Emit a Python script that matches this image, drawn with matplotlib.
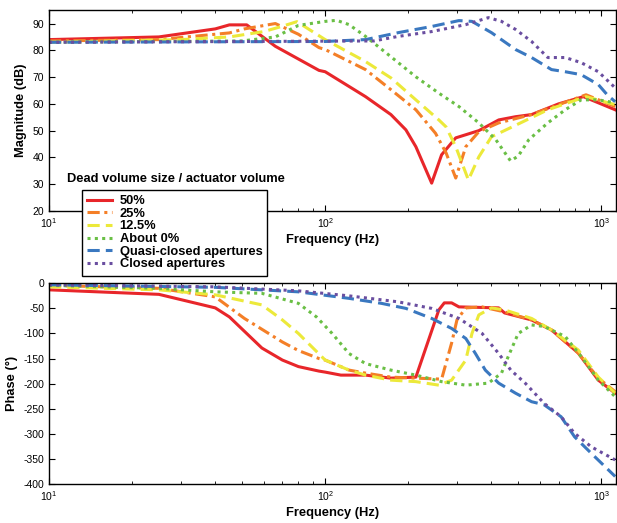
import numpy as np
import matplotlib
matplotlib.use("Agg")
import matplotlib.pyplot as plt

plt.rcParams['font.family'] = ['Liberation Sans', 'DejaVu Sans']
plt.rcParams['axes.unicode_minus'] = False
plt.rcParams['mathtext.default'] = 'regular'

# Magnitude data (Hz, dB)
red_f = [10, 25, 40, 45, 52, 66, 95, 100, 140, 173, 196, 213, 243, 264, 297, 360, 425, 489, 559, 700, 861, 1122]
red_m = [84, 85, 88, 89.5, 89.5, 81.5, 72.5, 72, 62.7, 56, 50.3, 44, 30.4, 41, 47.3, 50, 54, 55.2, 56, 60, 62.7, 57.8]
orange_f = [10, 25, 45, 51, 66, 80, 95, 100, 140, 173, 213, 251, 274, 297, 323, 360, 425, 559, 700, 880, 1122]
orange_m = [83.5, 84, 86.5, 88, 90, 86, 81, 80.3, 72.8, 65.3, 57.8, 49, 41.7, 32.3, 44, 49.6, 52.9, 56, 59.7, 63.4, 59]
yellow_f = [10, 30, 45, 60, 70, 79, 100, 140, 173, 213, 258, 274, 297, 330, 360, 400, 489, 640, 880, 1122]
yellow_m = [83, 84, 85, 87, 89, 90.7, 84, 75.8, 69.7, 61.5, 54, 51.4, 44, 31.6, 40.2, 47.7, 52, 57.8, 62.7, 59.7]
green_f = [10, 50, 66, 80, 100, 110, 122, 140, 173, 213, 258, 305, 360, 415, 469, 500, 546, 640, 740, 845, 975, 1122]
green_m = [83, 83.5, 85, 89.3, 90.8, 91.2, 89.6, 85.2, 77.6, 70.1, 64, 59, 52.9, 46.6, 38.7, 40.5, 46.6, 52.9, 57.8, 61.5, 61.5, 60.4]
blue_f = [10, 100, 140, 184, 243, 305, 340, 400, 489, 559, 660, 740, 845, 975, 1050, 1122]
blue_m = [83, 83.3, 84, 86.6, 88.9, 91.1, 90.8, 86.6, 80.3, 77.3, 72.8, 72, 70.9, 67.2, 63.4, 60.8]
purple_f = [10, 150, 184, 243, 323, 390, 435, 489, 559, 640, 740, 845, 975, 1122]
purple_m = [83, 83.5, 85.2, 87, 89.6, 92.2, 90.8, 87.8, 83.3, 77.3, 77.3, 75.4, 72, 66]

# Phase data (Hz, degrees)
red_pf = [10, 25, 40, 45, 59, 70, 80, 95, 100, 114, 140, 173, 213, 258, 270, 287, 305, 425, 446, 559, 660, 825, 975, 1122]
red_p = [-13, -22, -49, -67, -129, -153, -166, -175, -177, -183, -183, -189, -187, -53, -39, -39, -47, -49, -59, -73, -93, -139, -193, -219]
orange_pf = [10, 25, 40, 51, 70, 80, 95, 100, 122, 140, 173, 213, 264, 287, 300, 323, 370, 446, 559, 660, 825, 975, 1122]
orange_p = [-4, -10, -27, -70, -117, -134, -150, -153, -173, -179, -187, -189, -191, -119, -73, -49, -47, -57, -73, -93, -139, -189, -216]
yellow_pf = [10, 25, 40, 59, 70, 80, 100, 122, 140, 173, 213, 258, 287, 323, 340, 360, 400, 446, 559, 660, 825, 975, 1122]
yellow_p = [-7, -13, -23, -43, -73, -100, -153, -173, -183, -193, -196, -203, -193, -153, -100, -63, -49, -53, -70, -93, -133, -187, -219]
green_pf = [10, 25, 40, 59, 80, 93, 106, 122, 140, 173, 213, 264, 323, 390, 435, 460, 500, 559, 620, 740, 845, 975, 1122]
green_p = [-4, -10, -17, -20, -40, -67, -100, -140, -160, -173, -183, -196, -203, -199, -179, -146, -100, -83, -86, -106, -146, -193, -226]
blue_pf = [10, 40, 80, 122, 160, 196, 243, 287, 323, 350, 380, 425, 489, 559, 620, 715, 800, 920, 1122]
blue_p = [-3, -8, -17, -30, -40, -50, -70, -90, -110, -140, -173, -199, -219, -236, -242, -266, -306, -339, -385]
purple_pf = [10, 40, 80, 122, 184, 243, 305, 370, 425, 470, 530, 620, 715, 800, 920, 1122]
purple_p = [-3, -7, -15, -25, -37, -50, -70, -100, -140, -173, -199, -239, -266, -299, -326, -352]

labels = ['50%', '25%', '12.5%', 'About 0%', 'Quasi-closed apertures', 'Closed apertures']
colors = ['#e8262a', '#f47f27', '#ece93a', '#6abf45', '#3a78c0', '#6a4ea0']
styles = ['-', (0, (4, 1.5, 1, 1.5)), (0, (4, 2)), (0, (1, 1.4)), (0, (4, 2)), (0, (1, 1.4))]

mag = [(red_f, red_m), (orange_f, orange_m), (yellow_f, yellow_m),
       (green_f, green_m), (blue_f, blue_m), (purple_f, purple_m)]
pha = [(red_pf, red_p), (orange_pf, orange_p), (yellow_pf, yellow_p),
       (green_pf, green_p), (blue_pf, blue_p), (purple_pf, purple_p)]

fig = plt.figure(figsize=(6.17, 5.23), dpi=100)
ax1 = fig.add_axes([0.0794, 0.5966, 0.919, 0.384])
ax2 = fig.add_axes([0.0794, 0.0746, 0.919, 0.3837])

handles = []
for (f, m), c, ls, lab in zip(mag, colors, styles, labels):
    h, = ax1.plot(f, m, color=c, ls=ls, lw=2.2, label=lab)
    handles.append(h)
for (f, p), c, ls in zip(pha, colors, styles):
    ax2.plot(f, p, color=c, ls=ls, lw=2.2)

for ax in (ax1, ax2):
    ax.set_xscale('log')
    ax.set_xlim(10, 1130)
    ax.tick_params(which='both', direction='in', top=True, right=True, labelsize=7.5)
    ax.tick_params(which='major', length=4)
    ax.tick_params(which='minor', length=2.5)
    for s in ax.spines.values():
        s.set_linewidth(1.0)
    ax.set_xlabel('Frequency (Hz)', fontsize=9.3, fontweight='bold', labelpad=3)

ax1.set_ylim(20, 95)
ax1.set_yticks(range(20, 91, 10))
ax1.set_ylabel('Magnitude (dB)', fontsize=9.3, fontweight='bold')
ax2.set_ylim(-400, 0)
ax2.set_yticks(range(-400, 1, 50))
ax2.set_ylabel('Phase (°)', fontsize=9.3, fontweight='bold')

fig.text(0.1086, 0.658, 'Dead volume size / actuator volume', fontsize=9.3,
         fontweight='bold', va='center', ha='left')
leg = fig.legend(handles=handles, loc='upper left', bbox_to_anchor=(0.133, 0.637),
                 prop={'size': 9.3, 'weight': 'bold'}, frameon=True, fancybox=False,
                 edgecolor='black', framealpha=1, handlelength=1.9, labelspacing=0.05,
                 borderpad=0.4, handletextpad=0.6, borderaxespad=0)
leg.get_frame().set_linewidth(1.0)

fig.savefig('out.png', dpi=100)
